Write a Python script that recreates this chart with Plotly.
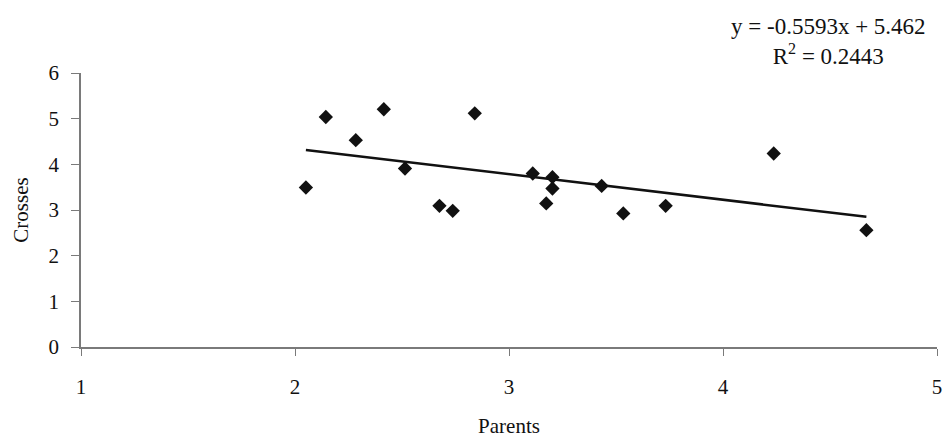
import plotly.graph_objects as go

# Parent vs. cross values
parents = [2.051, 2.144, 2.284, 2.415, 2.514, 2.675, 2.737, 2.840, 3.111,
           3.203, 3.203, 3.174, 3.433, 3.534, 3.732, 4.237, 4.670]
crosses = [3.493, 5.037, 4.528, 5.206, 3.909, 3.091, 2.981, 5.118, 3.799,
           3.718, 3.471, 3.145, 3.528, 2.924, 3.091, 4.237, 2.559]

# Linear trend line coefficients
slope = -0.5593
intercept = 5.462
r_squared = 0.2443

x_ticks = [1, 2, 3, 4, 5]
y_ticks = [0, 1, 2, 3, 4, 5, 6]

FONT = "Liberation Serif"
AXIS_COLOR = "#7a7a7a"

x_min, x_max = min(parents), max(parents)
trend_x = [x_min, x_max]
trend_y = [slope * v + intercept for v in trend_x]

fig = go.Figure()
fig.add_trace(go.Scatter(
    x=parents, y=crosses, mode="markers",
    marker=dict(symbol="diamond", size=11, color="#111111"),
    showlegend=False,
))
fig.add_trace(go.Scatter(
    x=trend_x, y=trend_y, mode="lines",
    line=dict(color="#111111", width=2.5),
    showlegend=False,
))

fig.add_annotation(
    xref="paper", yref="paper", x=0.873, y=1.222,
    xanchor="center", yanchor="top",
    text=f"y = {slope}x + {intercept}<br>R<sup>2</sup> = {r_squared}",
    showarrow=False, align="center",
    font=dict(family=FONT, size=23, color="#111111"),
)

fig.update_layout(
    width=947, height=439,
    margin=dict(l=81, r=10, t=73, b=92),
    paper_bgcolor="white", plot_bgcolor="white",
    font=dict(family=FONT, size=21, color="#111111"),
    xaxis=dict(
        range=[1, 5], tickvals=x_ticks, showgrid=False, zeroline=False,
        showline=True, linecolor=AXIS_COLOR, linewidth=1.5, automargin=False,
        ticks="outside", ticklen=7, tickcolor=AXIS_COLOR, ticklabelstandoff=13,
        title=dict(text="Parents", standoff=20, font=dict(size=21)),
    ),
    yaxis=dict(
        range=[0, 6], tickvals=y_ticks, showgrid=False, zeroline=False,
        showline=True, linecolor=AXIS_COLOR, linewidth=1.5, automargin=False,
        ticks="outside", ticklen=8, tickcolor=AXIS_COLOR, ticklabelstandoff=8,
        title=dict(text="Crosses", standoff=14, font=dict(size=21)),
    ),
)

fig.write_html("out.html")
